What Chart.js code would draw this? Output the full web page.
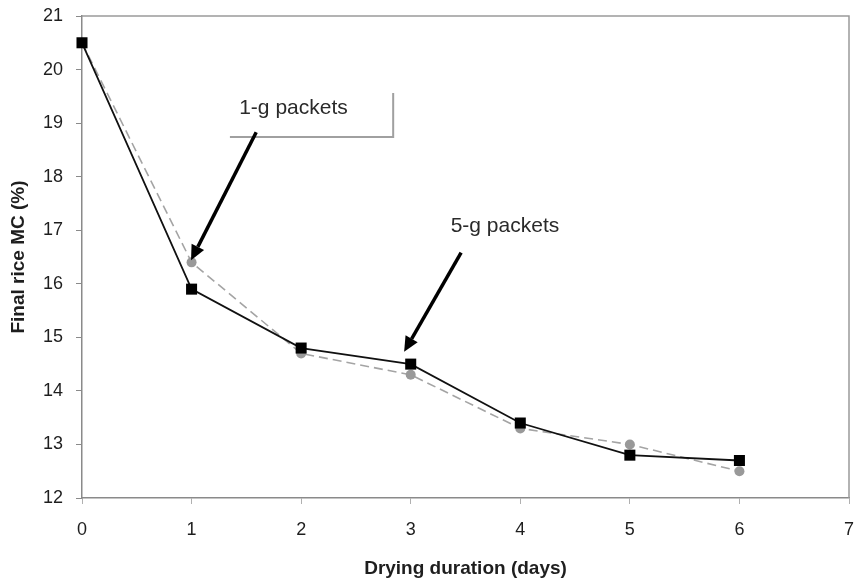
<!DOCTYPE html>
<html>
<head>
<meta charset="utf-8">
<script src="https://cdn.jsdelivr.net/npm/chart.js@4/dist/chart.umd.min.js"></script>
<style>
  html, body { margin: 0; padding: 0; background: #fff; }
  #wrap { width: 859px; height: 584px; }
</style>
</head>
<body>
<div id="wrap"><canvas id="chart" width="859" height="584"></canvas></div>
<script>
// Drying duration (days)
const days = [0, 1, 2, 3, 4, 5, 6];
// Final rice MC (%) for each packet size
const mc5g = [20.5, 15.9, 14.8, 14.5, 13.4, 12.8, 12.7];
const mc1g = [20.5, 16.4, 14.7, 14.3, 13.3, 13.0, 12.5];

// Callouts, in data units
const labels = [
  { text: "1-g packets", x: 1.93, y: 19.28 },
  { text: "5-g packets", x: 3.86, y: 17.08 }
];
const arrows = [
  { from: [1.59, 18.83], to: [0.995, 16.44] },
  { from: [3.46, 16.58], to: [2.94, 14.73] }
];
const bracket = { x0: 1.35, x1: 2.84, yTop: 19.56, yBottom: 18.74 };

const font = "'Liberation Sans', Arial, sans-serif";

const toPoints = (vals) => vals.map((v, i) => ({ x: days[i], y: v }));

// keep the plot box where the reference has it
const fixBox = (size, prop) => (s) => {
  s[prop] = size;
  s.paddingTop = 0;
  s.paddingBottom = 0;
  s.paddingLeft = 0;
  s.paddingRight = 0;
};

const callouts = {
  id: "callouts",
  afterDatasetsDraw(chart) {
    const { ctx, scales: { x, y }, chartArea: a } = chart;
    ctx.save();

    // grey frame on top and right
    ctx.strokeStyle = "#9a9a9a";
    ctx.lineWidth = 1.5;
    ctx.beginPath();
    ctx.moveTo(a.left, a.top);
    ctx.lineTo(a.right, a.top);
    ctx.lineTo(a.right, a.bottom);
    ctx.stroke();

    // bracket next to the 1-g label
    ctx.strokeStyle = "#a0a0a0";
    ctx.lineWidth = 2;
    ctx.beginPath();
    ctx.moveTo(x.getPixelForValue(bracket.x1), y.getPixelForValue(bracket.yTop));
    ctx.lineTo(x.getPixelForValue(bracket.x1), y.getPixelForValue(bracket.yBottom));
    ctx.lineTo(x.getPixelForValue(bracket.x0), y.getPixelForValue(bracket.yBottom));
    ctx.stroke();

    // arrows
    arrows.forEach((ar) => {
      const x1 = x.getPixelForValue(ar.from[0]);
      const y1 = y.getPixelForValue(ar.from[1]);
      const x2 = x.getPixelForValue(ar.to[0]);
      const y2 = y.getPixelForValue(ar.to[1]);
      const ang = Math.atan2(y2 - y1, x2 - x1);
      const head = 15, half = 7;
      const bx = x2 - head * Math.cos(ang);
      const by = y2 - head * Math.sin(ang);
      ctx.strokeStyle = "#000";
      ctx.fillStyle = "#000";
      ctx.lineWidth = 3.5;
      ctx.beginPath();
      ctx.moveTo(x1, y1);
      ctx.lineTo(bx, by);
      ctx.stroke();
      ctx.beginPath();
      ctx.moveTo(x2, y2);
      ctx.lineTo(bx + half * Math.sin(ang), by - half * Math.cos(ang));
      ctx.lineTo(bx - half * Math.sin(ang), by + half * Math.cos(ang));
      ctx.closePath();
      ctx.fill();
    });

    // labels
    ctx.fillStyle = "#2a2a2a";
    ctx.font = "21px " + font;
    ctx.textAlign = "center";
    ctx.textBaseline = "middle";
    labels.forEach((l) => {
      ctx.fillText(l.text, x.getPixelForValue(l.x), y.getPixelForValue(l.y));
    });

    ctx.restore();
  }
};

new Chart(document.getElementById("chart"), {
  type: "scatter",
  data: {
    datasets: [
      {
        label: "5-g packets",
        data: toPoints(mc5g),
        showLine: true,
        clip: false,
        borderColor: "#111",
        borderWidth: 1.8,
        pointStyle: "rect",
        pointRadius: 7.8,
        pointBackgroundColor: "#000",
        pointBorderColor: "#000",
        pointBorderWidth: 0,
        tension: 0
      },
      {
        label: "1-g packets",
        data: toPoints(mc1g),
        showLine: true,
        clip: false,
        borderColor: "#a4a4a4",
        borderWidth: 1.6,
        borderDash: [9, 5],
        pointStyle: "circle",
        pointRadius: 5,
        pointBackgroundColor: "#999",
        pointBorderColor: "#999",
        pointBorderWidth: 0,
        tension: 0
      }
    ]
  },
  options: {
    responsive: false,
    animation: false,
    layout: { padding: { top: 16, right: 10, bottom: 0, left: 0 } },
    plugins: {
      legend: { display: false },
      tooltip: { enabled: false }
    },
    scales: {
      x: {
        type: "linear",
        min: 0,
        max: 7,
        afterFit: fixBox(86, "height"),
        grid: { drawOnChartArea: false, drawTicks: true, tickLength: 6, color: "#b0b0b0" },
        border: { color: "#8a8a8a", width: 1.5 },
        ticks: { stepSize: 1, color: "#1e1e1e", padding: 15, font: { family: font, size: 18 } },
        title: {
          display: true,
          text: "Drying duration (days)",
          color: "#1e1e1e",
          font: { family: font, size: 19, weight: "bold" },
          padding: { top: 0 }
        }
      },
      y: {
        type: "linear",
        min: 12,
        max: 21,
        afterFit: fixBox(82, "width"),
        grid: { drawOnChartArea: false, drawTicks: true, tickLength: 6, color: "#8a8a8a" },
        border: { color: "#8a8a8a", width: 1.5 },
        ticks: { stepSize: 1, color: "#1e1e1e", padding: 13, font: { family: font, size: 18 } },
        title: {
          display: true,
          text: "Final rice MC (%)",
          color: "#1e1e1e",
          font: { family: font, size: 19, weight: "bold" },
          padding: { top: 7, bottom: 4 }
        }
      }
    }
  },
  plugins: [callouts]
});
</script>
</body>
</html>
